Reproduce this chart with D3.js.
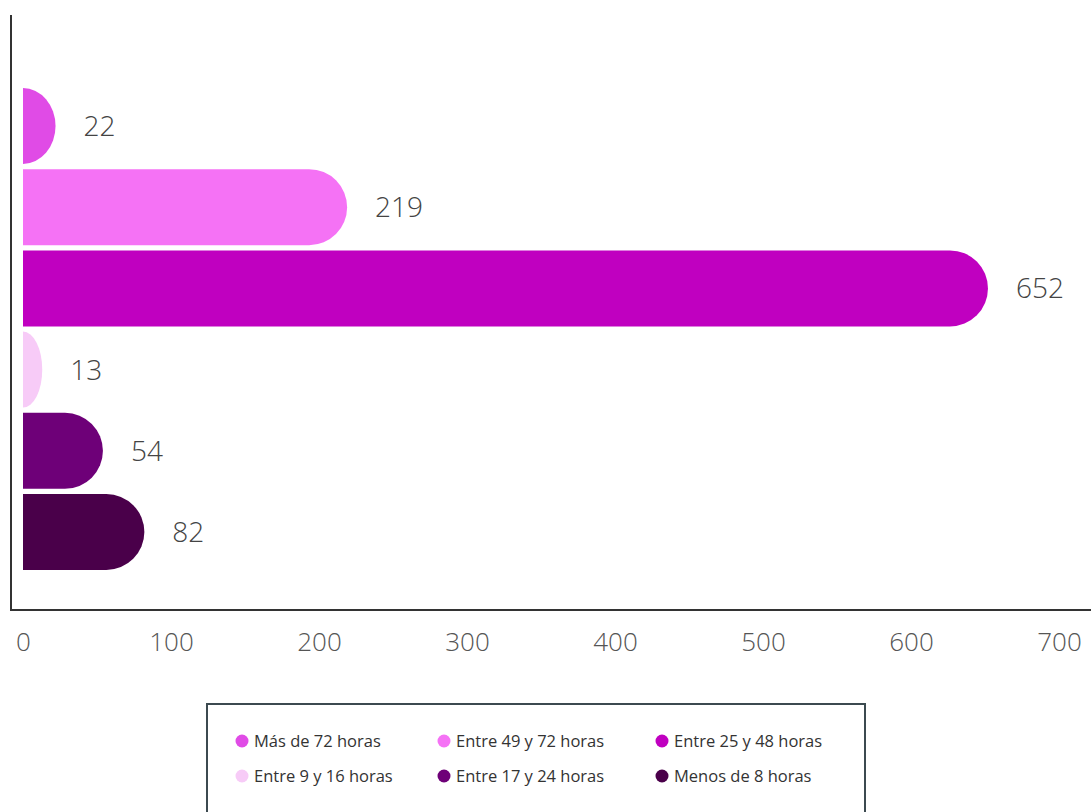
<!DOCTYPE html>
<html>
<head>
<meta charset="utf-8">
<script src="https://cdn.jsdelivr.net/npm/d3@7"></script>
<style>
  html, body { margin: 0; padding: 0; background: #ffffff; }
  svg { display: block; font-family: "Open Sans", Lato, sans-serif; }
</style>
</head>
<body>
<svg id="chart" width="1091" height="812"></svg>
<script>
// Tiempo de respuesta: número de casos por franja horaria
const categories = [
  "Más de 72 horas",
  "Entre 49 y 72 horas",
  "Entre 25 y 48 horas",
  "Entre 9 y 16 horas",
  "Entre 17 y 24 horas",
  "Menos de 8 horas"
];
const values = [22, 219, 652, 13, 54, 82];
const colors = ["#e04be6", "#f572f5", "#c000c0", "#f7cbf7", "#6e0078", "#4a004a"];
const xTicks = [0, 100, 200, 300, 400, 500, 600, 700];

const svg = d3.select("#chart");

const x = d3.scaleLinear().domain([0, 700]).range([23, 1059]);
const y = d3.scaleBand()
  .domain(categories)
  .range([85.4, 572.6])
  .paddingInner(0.064)
  .paddingOuter(0.032);

// Bars with a rounded right end
function barPath(v, cat) {
  const x0 = x(0), x1 = x(v);
  const y0 = y(cat), h = y.bandwidth(), y1 = y0 + h;
  const w = x1 - x0;
  const r = Math.min(h / 2, w);
  return `M${x0},${y0} L${x1 - r},${y0} A${r},${h / 2} 0 0 1 ${x1 - r},${y1} L${x0},${y1} Z`;
}

svg.append("g")
  .selectAll("path")
  .data(categories)
  .join("path")
  .attr("d", (c, i) => barPath(values[i], c))
  .attr("fill", (c, i) => colors[i]);

// Value labels
svg.append("g")
  .selectAll("text")
  .data(categories)
  .join("text")
  .attr("x", (c, i) => x(values[i]) + 28)
  .attr("y", c => y(c) + y.bandwidth() / 2)
  .attr("dy", "0.36em")
  .attr("font-size", 28)
  .attr("font-weight", 300)
  .attr("fill", "#444")
  .text((c, i) => values[i]);

// Axes lines
svg.append("line")
  .attr("x1", 11).attr("x2", 11)
  .attr("y1", 15).attr("y2", 611)
  .attr("stroke", "#333").attr("stroke-width", 2);
svg.append("line")
  .attr("x1", 11).attr("x2", 1091)
  .attr("y1", 610).attr("y2", 610)
  .attr("stroke", "#333").attr("stroke-width", 2);

// X tick labels
const xAxis = d3.axisBottom(x).tickValues(xTicks).tickSize(0).tickPadding(0);
const gx = svg.append("g").attr("transform", "translate(0,633)").call(xAxis);
gx.select(".domain").remove();
gx.selectAll("text")
  .attr("font-family", "'Open Sans', Lato, sans-serif")
  .attr("font-size", 26)
  .attr("font-weight", 300)
  .attr("fill", "#555")
  .attr("dy", "0.71em");

// Legend
const legend = svg.append("g");
legend.append("rect")
  .attr("x", 207).attr("y", 704)
  .attr("width", 658).attr("height", 120)
  .attr("fill", "#fff")
  .attr("stroke", "#3c4a50").attr("stroke-width", 2);

const legendCols = [242, 444, 662];
const legendRows = [741, 776];
const items = legend.selectAll("g.item")
  .data(categories)
  .join("g")
  .attr("class", "item")
  .attr("transform", (c, i) => `translate(${legendCols[i % 3]},${legendRows[Math.floor(i / 3)]})`);
items.append("circle")
  .attr("r", 6.5)
  .attr("fill", (c, i) => colors[i]);
items.append("text")
  .attr("x", 12)
  .attr("dy", "0.35em")
  .attr("font-size", 16.5)
  .attr("fill", "#333")
  .text(c => c);
</script>
</body>
</html>
